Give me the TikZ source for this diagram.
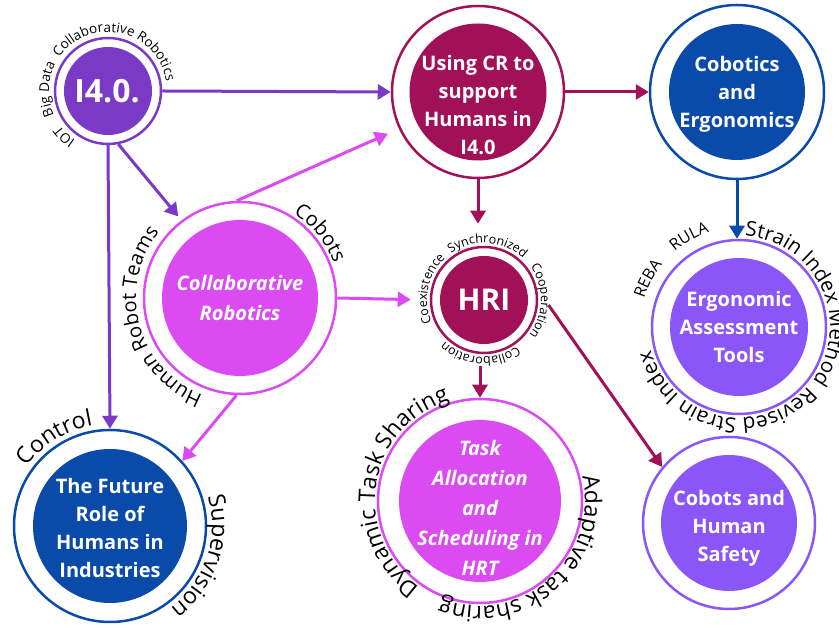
\documentclass[tikz,border=0pt]{standalone}
\usepackage{fontspec}
\setmainfont{Open Sans}
\usetikzlibrary{arrows.meta,decorations.text}
\definecolor{cI}{RGB}{123,58,198}
\definecolor{cC}{RGB}{160,17,87}
\definecolor{cB}{RGB}{10,74,168}
\definecolor{cM}{RGB}{218,76,242}
\definecolor{cV}{RGB}{139,86,247}
\tikzset{
  ring/.style={circle, draw=#1, line width=2.5pt, fill=white, inner sep=0pt},
  core/.style={circle, fill=#1, inner sep=0pt},
  lbl/.style={text=white, align=center, font=\fontsize{20}{28}\selectfont\bfseries},
  ilbl/.style={text=white, align=center, font=\fontsize{20}{30}\selectfont\bfseries\itshape},
  conn/.style={draw=#1, line width=3pt, -{Triangle[length=13pt,width=15pt]}},
}
\newcommand\arclabel[5]{%
  \path[decorate, decoration={text along path, text align=center,
     text={|\fontsize{#4}{#4}\selectfont|#5}}]
     (#1.center) ++(#3+90:#2) arc[start angle=#3+90, end angle=#3-90, radius=#2];}
\begin{document}
\begin{tikzpicture}[x=1pt,y=1pt]
\useasboundingbox (0,0) rectangle (839,628);
% I4.0
\node[ring=cI, minimum size=106pt] (i40) at (108,537) {};
\node[core=cI, minimum size=88pt] (i40c) at (i40) {};
\node[lbl, font=\fontsize{32}{32}\selectfont\bfseries] (i40t) at ([xshift=-1pt]i40) {I4.0.};
% Using CR
\node[ring=cC, minimum size=172pt] (cr) at (478,536) {};
\node[core=cC, minimum size=137pt] (crc) at (cr) {};
\node[lbl] (crt) at ([yshift=-13pt]cr) {Using CR to\\support\\Humans in\\I4.0};
% Cobotics
\node[ring=cB, minimum size=174pt] (cob) at (737,536) {};
\node[core=cB, minimum size=136pt] (cobc) at (cob) {};
\node[lbl] (cobt) at ([yshift=-2pt]cob) {Cobotics\\and\\Ergonomics};
% Collaborative Robotics
\node[ring=cM, minimum size=192pt] (collab) at (240,330) {};
\node[core=cM, minimum size=156pt] (collabc) at (collab) {};
\node[ilbl] (collabt) at (collab) {Collaborative\\Robotics};
% HRI
\node[ring=cC, minimum size=106pt] (hri) at (484,328) {};
\node[core=cC, minimum size=88pt] (hric) at (hri) {};
\node[lbl, font=\fontsize{30}{30}\selectfont\bfseries] (hrit) at (hri) {HRI};
% Ergonomic Assessment Tools
\node[ring=cV, minimum size=174pt] (ergo) at (739,301) {};
\node[core=cV, minimum size=138pt] (ergoc) at (ergo) {};
\node[lbl] (ergot) at (ergo) {Ergonomic\\Assessment\\Tools};
% Task Allocation
\node[ring=cM, minimum size=204pt] (task) at (480,127) {};
\node[core=cM, minimum size=162pt] (taskc) at (task) {};
\node[ilbl] (taskt) at ([yshift=-7pt]task) {Task\\Allocation\\and\\Scheduling in\\HRT};
% Future Role
\node[ring=cB, minimum size=192pt] (future) at (110,102) {};
\node[core=cB, minimum size=154pt] (futurec) at (future) {};
\node[lbl] (futuret) at ([yshift=-2pt]future) {The Future\\Role of\\Humans in\\Industries};
% Cobots and Human Safety
\node[ring=cV, minimum size=172pt] (safety) at (729,105) {};
\node[core=cV, minimum size=136pt] (safetyc) at (safety) {};
\node[lbl] (safetyt) at ([yshift=-5pt]safety) {Cobots and\\Human\\Safety};
% connectors
\draw[conn=cI] (i40.east) -- (cr.west);
\draw[conn=cC] (cr.east) -- (cob.west);
\draw[conn=cB] (cob.south) -- (cob.south |- ergo.north);
\draw[conn=cC, shorten >=22pt] (cr.south) -- (cr.south |- hri.north);
\draw[conn=cC, shorten <=12pt] (task.north |- hri.south) -- (task.north);
\draw[conn=cC, shorten <=20pt] (hri.12) -- (safety.140);
\draw[conn=cI, shorten >=5pt] (i40.281) -- (collab.127);
\draw[conn=cI] (i40.south) -- (future.north);
\draw[conn=cM, shorten >=12pt] (collab.92) -- (cr.205);
\draw[conn=cM, shorten >=19pt] (collab.east) -- (hri.west);
\draw[conn=cM] (collab.268) -- (future.42);
% curved labels
\arclabel{i40}{59}{77.5}{13.5}{Collaborative Robotics}
\arclabel{i40}{59}{178.5}{13.5}{Big Data}
\arclabel{i40}{59}{226}{13.5}{IOT}
\arclabel{hri}{57}{86}{12.5}{Synchronized}
\arclabel{hri}{57}{-1}{12.5}{Cooperation}
\arclabel{hri}{57}{-94}{12.5}{Collaboration}
\arclabel{hri}{57}{168}{12.5}{Coexistence}
\arclabel{collab}{100}{39}{20}{Cobots}
\arclabel{collab}{104}{195}{20}{Human Robot Teams}
\arclabel{future}{102}{122}{23}{Control}
\arclabel{future}{102}{-18.5}{23}{Supervision}
\arclabel{task}{105}{171}{23}{Dynamic Task Sharing}
\arclabel{task}{105}{-49}{23}{Adaptive task sharing}
\arclabel{ergo}{99}{152}{16}{REBA}
\arclabel{ergo}{99}{119}{16}{RULA}
\arclabel{ergo}{91}{25}{20.5}{Strain Index Method}
\arclabel{ergo}{91}{-103}{21}{Revised Strain Index}
\end{tikzpicture}
\end{document}
